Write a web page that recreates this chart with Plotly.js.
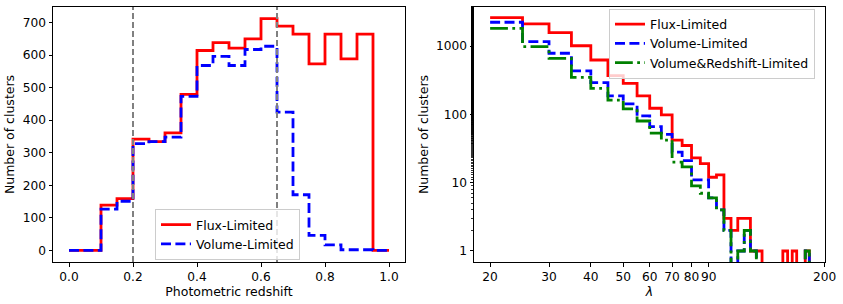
<!DOCTYPE html>
<html>
<head>
<meta charset="utf-8">
<script src="https://cdn.plot.ly/plotly-3.0.1.min.js"></script>
<style>html,body{margin:0;padding:0;background:#fff;}#chart{width:843px;height:304px;}</style>
</head>
<body>
<div id="chart"></div>
<script>
// ---- Left panel: photometric redshift histogram (bin edges, counts) ----
const zEdges = [0.00,0.05,0.10,0.15,0.20,0.25,0.30,0.35,0.40,0.45,0.50,0.55,0.60,0.65,0.70,0.75,0.80,0.85,0.90,0.95,1.00];
const fluxZ  = [0,0,139,159,342,334,361,479,614,638,621,650,712,689,664,573,664,588,664,0];
const volZ   = [0,0,127,151,328,334,348,473,568,596,568,617,627,425,171,46,17,2,2,0];
const zCuts  = [0.2, 0.65];
const zTicks = [0.0,0.2,0.4,0.6,0.8,1.0];
const zTickText = ["0.0","0.2","0.4","0.6","0.8","1.0"];
const nTicksLin = [0,100,200,300,400,500,600,700];

// ---- Right panel: richness (lambda) histogram ----
const lamEdges = [20,25,30,35,40,45,50,55,60,65,70,75,80,85,90,95,100,105,110,115,120,125,130,135,140,145,150,155,160,165,170,175,180];
const fluxL  = [2610,2110,1570,1010,625,368,285,187,123,98,42,35,23,19,12,13,3,2,3,3,1,1,0,0,0,0,1,0,1,0,0,1];
const volL   = [2230,1160,784,432,291,187,142,95,66,51,28,21,11,11,6,4,2,0,1,2,1,0,0,0,0,0,0,0,0,0,0,1];
const vzL    = [1820,980,662,349,240,162,120,80,53,42,20,17,9,7,6,4,2,0,1,2,1,0,0,0,0,0,0,0,0,0,0,1];
const lamTicks = [20,30,40,50,60,70,80,90,200];
const lamTickText = ["20","30","40","50","60","70","80","90","200"];
const nTicksLog = [1,10,100,1000];

const names = ["Flux-Limited","Volume-Limited","Volume&Redshift-Limited"];

function step(edges, vals, floor, isLog) {
  const v = vals.map(d => (isLog && d <= 0) ? floor : d);
  const xs = [], ys = [];
  if (!isLog) { xs.push(edges[0]); ys.push(floor); }
  for (let i = 0; i < v.length; i++) { xs.push(edges[i]); ys.push(v[i]); }
  xs.push(edges[edges.length-1]); ys.push(v[v.length-1]);
  xs.push(edges[edges.length-1]); ys.push(floor);
  return {x: xs, y: ys};
}

const LW = 2.8;
const red = {color: 'rgb(255,0,0)', width: LW, shape: 'hv'};
const blue = {color: 'rgb(0,0,255)', width: LW, shape: 'hv', dash: '10px,4.4px'};
const green = {color: 'rgb(0,128,0)', width: LW, shape: 'hv', dash: '17.8px,4.4px,2.8px,4.4px'};

const s1 = step(zEdges, fluxZ, 0, false);
const s2 = step(zEdges, volZ, 0, false);
const FL = 0.01;
const s3 = step(lamEdges, fluxL, FL, true);
const s4 = step(lamEdges, volL, FL, true);
const s5 = step(lamEdges, vzL, FL, true);

const traces = [
  {x: s1.x, y: s1.y, mode: 'lines', line: red, name: names[0], xaxis: 'x', yaxis: 'y', legend: 'legend', hoverinfo: 'skip'},
  {x: s2.x, y: s2.y, mode: 'lines', line: blue, name: names[1], xaxis: 'x', yaxis: 'y', legend: 'legend', hoverinfo: 'skip'},
  {x: s3.x, y: s3.y, mode: 'lines', line: red, name: names[0], xaxis: 'x2', yaxis: 'y2', legend: 'legend2', hoverinfo: 'skip'},
  {x: s4.x, y: s4.y, mode: 'lines', line: blue, name: names[1], xaxis: 'x2', yaxis: 'y2', legend: 'legend2', hoverinfo: 'skip'},
  {x: s5.x, y: s5.y, mode: 'lines', line: green, name: names[2], xaxis: 'x2', yaxis: 'y2', legend: 'legend2', hoverinfo: 'skip'}
];

const FONT = 'DejaVu Sans, sans-serif';
const TF = {family: FONT, size: 12.2, color: '#000'};
const axBase = {
  showline: true, linecolor: '#000', linewidth: 1, mirror: true,
  ticks: 'outside', ticklen: 3.5, tickwidth: 1, tickcolor: '#000',
  showgrid: false, zeroline: false, tickfont: TF, automargin: false, tickangle: 0
};

const shapes = zCuts.map(c => ({
  type: 'line', xref: 'x', yref: 'y domain', x0: c, x1: c, y0: 0, y1: 1,
  line: {color: 'rgb(128,128,128)', width: 2, dash: '6px,3px'}, layer: 'above'
}));

const W = 843, H = 304;
const yDom = [1 - 262/H, 1 - 7/H];

const legendBase = {
  bgcolor: 'rgba(255,255,255,0.8)', bordercolor: '#cccccc', borderwidth: 1,
  font: {family: FONT, size: 12.5, color: '#000'}, xanchor: 'left', yanchor: 'middle',
  tracegroupgap: 0, itemwidth: 30
};

const layout = {
  width: W, height: H,
  margin: {l: 0, r: 0, t: 0, b: 0},
  paper_bgcolor: '#fff', plot_bgcolor: '#fff',
  font: {family: FONT, size: 12.2, color: '#000'},
  xaxis: Object.assign({}, axBase, {
    domain: [53/W, 405/W], range: [-0.05, 1.05], anchor: 'y',
    tickvals: zTicks, ticktext: zTickText,
    title: {text: 'Photometric redshift', font: {family: FONT, size: 12.5, color: '#000'}, standoff: 3}
  }),
  yaxis: Object.assign({}, axBase, {
    domain: yDom, range: [-35.6, 747.6], anchor: 'x',
    tickvals: nTicksLin,
    title: {text: 'Number of clusters', font: {family: FONT, size: 12.5, color: '#000'}, standoff: 5}
  }),
  xaxis2: Object.assign({}, axBase, {
    domain: [474/W, 825/W], type: 'log', range: [Math.log10(17.9), Math.log10(200.5)], anchor: 'y2',
    tickvals: lamTicks, ticktext: lamTickText,
    title: {text: '<i>λ</i>', font: {family: FONT, size: 12.5, color: '#000'}, standoff: 1}
  }),
  yaxis2: Object.assign({}, axBase, {
    domain: yDom, type: 'log', range: [Math.log10(0.69), Math.log10(3730)], anchor: 'x2',
    tickvals: nTicksLog, ticktext: ["1","10","100","1000"],
    minor: {ticks: 'outside', ticklen: 2, tickwidth: 0.8, tickcolor: '#000', showgrid: false},
    title: {text: 'Number of clusters', font: {family: FONT, size: 12.5, color: '#000'}, standoff: 4}
  }),
  shapes: shapes,
  showlegend: true,
  legend: Object.assign({}, legendBase, {x: 155/W, y: 1 - 234.5/H}),
  legend2: Object.assign({}, legendBase, {x: 609/W, y: 1 - 43.5/H})
};

Plotly.newPlot('chart', traces, layout, {staticPlot: true, displayModeBar: false});
</script>
</body>
</html>
